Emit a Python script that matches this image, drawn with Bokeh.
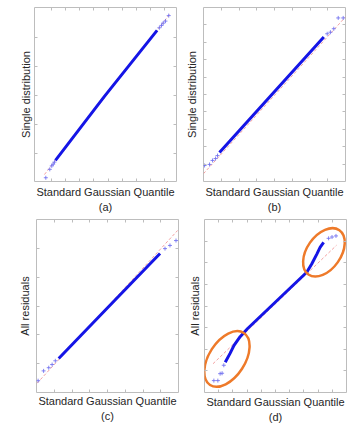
import math
from bokeh.plotting import figure
from bokeh.layouts import column, row
from bokeh.models import LinearAxis, FixedTicker, Range1d
from bokeh.embed import file_html
from bokeh.resources import INLINE

# ---------------- data (axis units) ----------------
X_LABEL = "Standard Gaussian Quantile"

# (a)
a_line_x = [-3.72, -0.26, 3.46]
a_line_y = [-2.24, -0.03, 2.25]
a_tail_x = [-4.40, -4.12, -3.98, -3.88, -3.79, 3.62, 3.77, 3.89, 4.05, 4.28]
a_tail_y = [-2.84, -2.55, -2.43, -2.37, -2.30, 2.34, 2.42, 2.50, 2.57, 2.76]
a_ref_x = [-4.5, 4.4]
a_ref_y = [-2.73, 2.84]

# (b)
b_line_x = [-3.10, -0.16, 2.78]
b_line_y = [-3.34, -0.02, 3.30]
b_tail_x = [-3.94, -3.66, -3.49, -3.32, -3.21, 2.97, 3.15, 3.34, 3.59, 3.87]
b_tail_y = [-4.08, -4.02, -3.79, -3.68, -3.51, 3.49, 3.58, 3.78, 4.40, 4.40]
b_ref_x = [-4.0, 4.0]
b_ref_y = [-4.55, 4.46]

# (c)
c_line_x = [-2.75, 0.10, 2.96]
c_line_y = [-1.82, 0.00, 1.82]
c_tail_x = [-3.91, -3.60, -3.31, -3.12, -2.94, 3.24, 3.52, 3.86]
c_tail_y = [-2.59, -2.25, -2.14, -2.03, -1.90, 1.99, 2.10, 2.27]
c_ref_x = [-3.97, 3.95]
c_ref_y = [-2.68, 2.62]

# (d)
d_line_x = [-3.54, -3.20, -2.92, -2.49, -1.96, 2.20, 2.55, 2.91, 3.14, 3.39]
d_line_y = [-2.60, -2.19, -1.82, -1.42, -1.04, 1.56, 1.94, 2.40, 2.71, 2.94]
d_tail_x = [-4.34, -4.06, -3.90, -3.76, -3.64, 3.74, 3.98, 4.26]
d_tail_y = [-3.45, -3.45, -3.13, -3.11, -2.74, 3.13, 3.19, 3.24]
d_ref_x = [-4.4, 4.3]
d_ref_y = [-2.67, 2.81]
d_mark_x = [-3.42, 3.41]
d_mark_y = [-2.45, 2.48]

# ---------------- styling ----------------
FONT = "Liberation Sans"
TXT = "#262626"
BLUE = "#1515e6"
TAIL = "#7070f0"
REF = "#f08a8a"
ORANGE = "#ee7a2a"
GREY = "#bdbdbd"


def style_axis(ax, ticks):
    ax.ticker = FixedTicker(ticks=ticks)
    ax.major_tick_in = 3
    ax.major_tick_out = 0
    ax.major_tick_line_color = GREY
    ax.minor_tick_line_color = None
    ax.axis_line_color = None
    ax.major_label_text_font_size = "1px"
    ax.major_label_text_color = None
    ax.major_label_standoff = 0
    ax.axis_label_standoff = 0


def panel(xr, yr, xt, yt, ylabel, cap, bl, br, bt, bb, w, h, ys, xs,
          lx, ly, tx, ty, rx, ry):
    p = figure(width=w, height=h, x_range=Range1d(*xr), y_range=Range1d(*yr),
               output_backend="svg", toolbar_location=None,
               min_border_left=bl, min_border_right=br,
               min_border_top=bt, min_border_bottom=bb)
    p.grid.visible = False
    p.outline_line_color = GREY
    p.outline_line_width = 1
    p.background_fill_color = "white"
    p.border_fill_color = "white"

    xa = p.below[0]
    ya = p.left[0]
    style_axis(xa, xt)
    style_axis(ya, yt)

    xa.axis_label = X_LABEL + "\n" + cap
    xa.axis_label_text_font = FONT
    xa.axis_label_text_font_size = "11px"
    xa.axis_label_text_font_style = "normal"
    xa.axis_label_text_color = TXT
    xa.axis_label_text_line_height = 1.32
    xa.axis_label_standoff = xs

    ya.axis_label = ylabel
    ya.axis_label_text_font = FONT
    ya.axis_label_text_font_size = "11px"
    ya.axis_label_text_font_style = "normal"
    ya.axis_label_text_color = TXT
    ya.axis_label_standoff = ys

    top = LinearAxis()
    right = LinearAxis()
    style_axis(top, xt)
    style_axis(right, yt)
    p.add_layout(top, "above")
    p.add_layout(right, "right")

    p.line(rx, ry, line_color=REF, line_width=1, line_dash="3 2", line_alpha=0.8)
    p.line(lx, ly, line_color=BLUE, line_width=3)
    p.scatter(tx, ty, marker="cross", size=4, line_color=TAIL, line_width=1, line_alpha=0.85)
    return p


pa = panel((-5.2, 4.83), (-2.97, 3.04), [-4, -3, -2, -1, 0, 1, 2, 3, 4], [-2, -1, 0, 1, 2],
           "Single distribution", "(a)", 34, 5, 7, 33, 181, 216, 3, 4,
           a_line_x, a_line_y, a_tail_x, a_tail_y, a_ref_x, a_ref_y)
pb = panel((-4, 4), (-5, 5), [-3, -2, -1, 0, 1, 2, 3], [-4, -3, -2, -1, 0, 1, 2, 3, 4],
           "Single distribution", "(b)", 22, 17, 6, 33, 181, 216, 6, 4,
           b_line_x, b_line_y, b_tail_x, b_tail_y, b_ref_x, b_ref_y)
pc = panel((-4, 4), (-3, 3), [-3, -2, -1, 0, 1, 2, 3], [-2, -1, 0, 1, 2],
           "All residuals", "(c)", 36, 3, 3, 32, 181, 210, 6, 2,
           c_line_x, c_line_y, c_tail_x, c_tail_y, c_ref_x, c_ref_y)
pd = panel((-5, 5), (-4, 4), [-4, -3, -2, -1, 0, 1, 2, 3, 4], [-3, -2, -1, 0, 1, 2, 3],
           "All residuals", "(d)", 23, 16, 2, 33, 181, 210, 4, 3,
           d_line_x, d_line_y, d_tail_x, d_tail_y, d_ref_x, d_ref_y)

# orange highlight ellipses in (d)
pd.ellipse(x=d_mark_x, y=d_mark_y, width=[62, 54], height=[36, 34],
           angle=[math.radians(57), math.radians(55)],
           width_units="screen", height_units="screen",
           fill_color=None, line_color=ORANGE, line_width=2.5)

layout = column(row(pa, pb), row(pc, pd))
open("out.html", "w").write(file_html(layout, INLINE))
